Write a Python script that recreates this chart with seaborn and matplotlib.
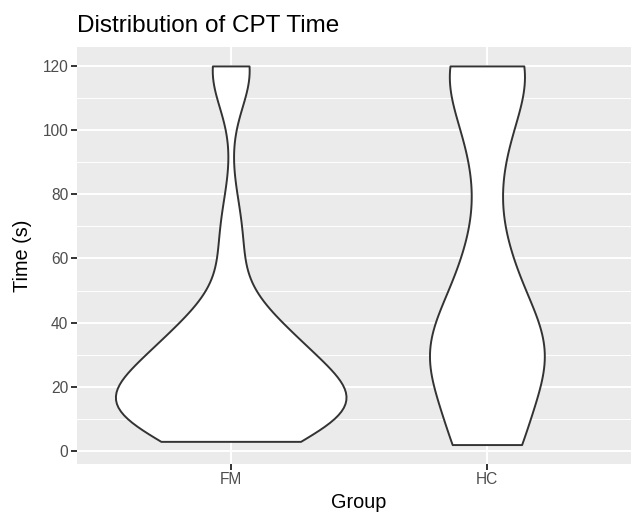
import matplotlib
matplotlib.use("Agg")
import matplotlib.pyplot as plt
import seaborn as sns
import pandas as pd

# Data (CPT time in seconds), estimated from the reference violins
groups = ["FM", "HC"]
fm_time = [3, 13, 13, 13, 13, 13, 13, 13, 13, 13, 13, 13, 14, 14, 16, 20, 23, 26, 29, 31,
           34, 36, 37, 37, 38, 60, 72, 118, 118, 120]
hc_time = [2, 2, 2, 2, 2, 13, 31, 31, 31, 31, 31, 31, 31, 31, 31, 31, 52, 55, 56, 63,
           92, 92, 106, 120, 120, 120, 120, 120, 120, 120]
y_ticks = [0, 20, 40, 60, 80, 100, 120]
y_minor = [10, 30, 50, 70, 90, 110]

plt.rcParams['font.family'] = ['Liberation Sans', 'DejaVu Sans']

W, H = 631, 512
fig = plt.figure(figsize=(W / 100, H / 100), dpi=100)
panel_l, panel_r, panel_t, panel_b = 77, 631, 47, 463.5
ax = fig.add_axes([panel_l / W, 1 - panel_b / H, (panel_r - panel_l) / W, (panel_b - panel_t) / H])

df = pd.DataFrame({
    "Group": ["FM"] * len(fm_time) + ["HC"] * len(hc_time),
    "Time": fm_time + hc_time,
})
sns.violinplot(data=df, x="Group", y="Time", order=groups, cut=0, bw_adjust=0.7,
               density_norm="area", inner=None, width=0.9, color="white", saturation=1,
               linecolor="#333333", linewidth=1.4, ax=ax)

ax.set_facecolor('#EBEBEB')
for s in ax.spines.values():
    s.set_visible(False)
ax.set_ylim(-3.9, 125.9)
ax.set_xlim(-0.6, 1.5625)
ax.set_yticks(y_ticks)
ax.set_yticks(y_minor, minor=True)
ax.grid(which='major', color='white', linewidth=1.4)
ax.grid(which='minor', axis='y', color='white', linewidth=0.7)
ax.set_axisbelow(True)
ax.tick_params(which='major', length=4.3, width=1.4, color='#333333',
               labelcolor='#4D4D4D', labelsize=11.2, pad=2)
ax.tick_params(which='minor', length=0)
ax.set_xlabel('')
ax.set_ylabel('')

fig.text(359 / W, 1 - 508 / H, 'Group', ha='center', va='baseline', fontsize=14.3, color='black')
fig.text(22 / W, 1 - (panel_t + panel_b) / 2 / H, 'Time (s)', rotation=90, ha='center',
         va='center', fontsize=14.3, color='black')
fig.text(panel_l / W, 1 - 31.7 / H, 'Distribution of CPT Time', ha='left', va='baseline',
         fontsize=17.5, color='black')

fig.savefig("out.png", dpi=100)
